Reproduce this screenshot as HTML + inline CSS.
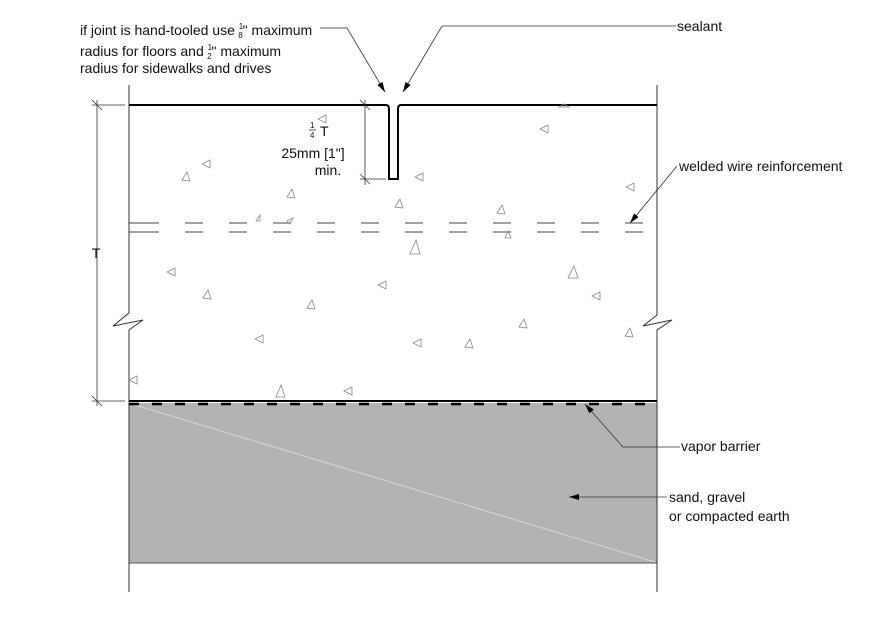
<!DOCTYPE html>
<html><head><style>
body{margin:0;background:#fff;}
svg text{font-family:"Liberation Sans",Arial,sans-serif;fill:#111;}
</style></head><body>
<svg width="878" height="620" viewBox="0 0 878 620" xmlns="http://www.w3.org/2000/svg">
<defs>
<marker id="ah" markerWidth="10" markerHeight="6" refX="10" refY="3" orient="auto" markerUnits="userSpaceOnUse">
<path d="M0,0 L10,3 L0,6 Z" fill="#000"/>
</marker>
</defs>
<rect x="129" y="403" width="528" height="160" fill="#b3b3b3"/>
<line x1="135" y1="405" x2="655" y2="562" stroke="#d8d8d8" stroke-width="1"/>
<line x1="129" y1="563" x2="657" y2="563" stroke="#555" stroke-width="1"/>
<path d="M129,85 L129,313 L113,326 L143,320 L129,330 L129,592" fill="none" stroke="#333" stroke-width="1"/>
<path d="M657,85 L657,315 L643,326 L672,320 L657,330 L657,592" fill="none" stroke="#333" stroke-width="1"/>
<path d="M129,105 L386,105 Q389,105 389,109 L389,179 L398,179 L398,109 Q398,105 401,105 L657,105" fill="none" stroke="#000" stroke-width="2"/>
<line x1="129" y1="401" x2="657" y2="401" stroke="#000" stroke-width="2"/>
<line x1="129" y1="404" x2="657" y2="404" stroke="#000" stroke-width="2.5" stroke-dasharray="10,13"/>
<g stroke="#444" stroke-width="1">
<line x1="129" y1="223" x2="657" y2="223" stroke-dasharray="30,26,18,26,18,26,18,26,18,26,18,26,18,26,18,26,18,26,18,26,18,26,18,26,18,26,18,26,18,26,18,26,30"/>
<line x1="129" y1="232" x2="657" y2="232" stroke-dasharray="30,26,18,26,18,26,18,26,18,26,18,26,18,26,18,26,18,26,18,26,18,26,18,26,18,26,18,26,18,26,18,26,30"/>
</g>
<g fill="none" stroke="#888" stroke-width="0.8">
<path d="M326,115 l-8,4 l8,4 z"/><path d="M210,160 l-8,4 l8,4 z"/><path d="M182,180 l5,-8 l3,9 z"/><path d="M287,197 l5,-8 l3,9 z"/>
<path d="M548,125 l-8,4 l8,4 z"/><path d="M423,173 l-8,4 l8,4 z"/><path d="M395,207 l5,-8 l3,9 z"/><path d="M497,213 l5,-8 l3,9 z"/>
<path d="M634,183 l-8,4 l8,4 z"/><path d="M559,107 l5,-3 l5,3 z"/><path d="M410,254 l6,-14 l4,14 z"/><path d="M175,268 l-8,4 l8,4 z"/>
<path d="M203,298 l5,-8 l3,9 z"/><path d="M307,308 l5,-8 l3,9 z"/><path d="M386,281 l-8,4 l8,4 z"/><path d="M568,278 l6,-12 l4,12 z"/>
<path d="M600,292 l-8,4 l8,4 z"/><path d="M519,327 l5,-8 l3,9 z"/><path d="M263,335 l-8,4 l8,4 z"/><path d="M465,347 l5,-8 l3,9 z"/>
<path d="M421,339 l-8,4 l8,4 z"/><path d="M625,336 l5,-8 l3,9 z"/><path d="M137,376 l-8,4 l8,4 z"/><path d="M276,397 l5,-12 l4,12 z"/>
<path d="M352,387 l-8,4 l8,4 z"/><path d="M287,221 l6,-3 l-3,6 z"/><path d="M256,221 l4,-6 l0,6 z"/><path d="M505,238 l3,-7 l3,7 z"/>
</g>
<g stroke="#333" stroke-width="0.8">
<line x1="97" y1="100" x2="97" y2="406"/>
<line x1="92" y1="105" x2="125" y2="105"/><line x1="92" y1="401" x2="125" y2="401"/>
<line x1="92" y1="100" x2="102" y2="110"/><line x1="92" y1="396" x2="102" y2="406"/>
<line x1="365" y1="100" x2="365" y2="185"/>
<line x1="360" y1="179" x2="386" y2="179"/>
<line x1="360" y1="100" x2="370" y2="110"/><line x1="360" y1="174" x2="370" y2="184"/>
</g>
<text x="96" y="258" font-size="14" text-anchor="middle">T</text>
<text x="310" y="128" font-size="8">1</text>
<line x1="309" y1="130" x2="316" y2="130" stroke="#111" stroke-width="0.7"/>
<text x="310" y="138" font-size="8">4</text>
<text x="320" y="136" font-size="14">T</text>
<text x="313" y="158" font-size="14" text-anchor="middle">25mm [1"]</text>
<text x="328" y="175" font-size="14" text-anchor="middle">min.</text>
<g stroke="#333" stroke-width="0.8" fill="none">
<polyline points="320,28 347,28 385,92" marker-end="url(#ah)"/>
<polyline points="676,26 442,26 403,92" marker-end="url(#ah)"/>
<polyline points="677,166 630,223" marker-end="url(#ah)"/>
<polyline points="680,447 623,447 585,404" marker-end="url(#ah)"/>
<polyline points="667,497 569,497" marker-end="url(#ah)"/>
</g>
<text x="80" y="35" font-size="14">if joint is hand-tooled use <tspan font-size="8" dy="-6">1</tspan><tspan font-size="8" dx="-5" dy="9">8</tspan><tspan dy="-3">" maximum</tspan></text>
<text x="80" y="56" font-size="14">radius for floors and <tspan font-size="8" dy="-6">1</tspan><tspan font-size="8" dx="-5" dy="9">2</tspan><tspan dy="-3">" maximum</tspan></text>
<text x="80" y="73" font-size="14">radius for sidewalks and drives</text>
<text x="677" y="31" font-size="14">sealant</text>
<text x="679" y="171" font-size="14">welded wire reinforcement</text>
<text x="681" y="451" font-size="14">vapor barrier</text>
<text x="669" y="502" font-size="14">sand, gravel</text>
<text x="669" y="521" font-size="14">or compacted earth</text>
</svg>
</body></html>
